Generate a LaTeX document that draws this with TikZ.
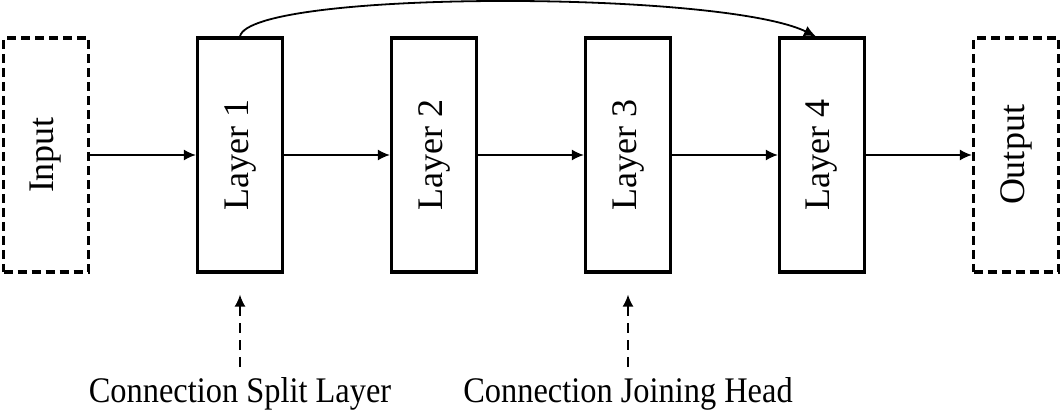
\documentclass[tikz,border=0pt]{standalone}
\usepackage{fontspec}
\setmainfont{Liberation Serif}
\usetikzlibrary{positioning, arrows, arrows.meta}
\tikzset{
    x=1pt, y=1pt,
    >={Latex[length=12pt,width=11pt]}, % Filled arrowheads
    node distance=194pt, % Distance between layer centres
    layer/.style={draw, line width=3.2pt, minimum width=85pt, minimum height=234pt,
                  inner sep=0pt, font=\fontsize{36}{40}\selectfont},
    io/.style={layer, dash pattern=on 9pt off 5pt},
    note/.style={font=\fontsize{36}{40}\selectfont, xscale=0.9, transform shape, inner sep=0pt},
    flow/.style={->, line width=1.8pt},
    hint/.style={->, line width=1.8pt, dash pattern=on 10pt off 7pt},
}
\begin{document}
\begin{tikzpicture}
    \useasboundingbox (0,0) rectangle (1063,410);

    \node[io] (in) at (46,255) {\rotatebox{90}{Input}};
    \node[layer] (l1) [right of=in] {\rotatebox{90}{Layer 1}};
    \node[layer] (l2) [right of=l1] {\rotatebox{90}{Layer 2}};
    \node[layer] (l3) [right of=l2] {\rotatebox{90}{Layer 3}};
    \node[layer] (l4) [right of=l3] {\rotatebox{90}{Layer 4}};
    \node[io] (out) [right of=l4] {\rotatebox{90}{Output}};

    \node[note, anchor=base] (split) at (l1.center |- 0,8) {Connection Split Layer};
    \node[note, anchor=base] (join) at (l3.center |- 0,8) {Connection Joining Head};

    \path
        (in) edge[flow] (l1)
        (l1) edge[flow] (l2)
        (l2) edge[flow] (l3)
        (l3) edge[flow] (l4)
        (l4) edge[flow] (out);

    \draw[flow] (l1.north) .. controls (250,420) and (720,420) .. ([xshift=-6pt]l4.north);

    \draw[hint, shorten <=10pt, shorten >=21pt] (split) -- (split |- l1.south);
    \draw[hint, shorten <=10pt, shorten >=21pt] (join) -- (join |- l3.south);
\end{tikzpicture}
\end{document}
